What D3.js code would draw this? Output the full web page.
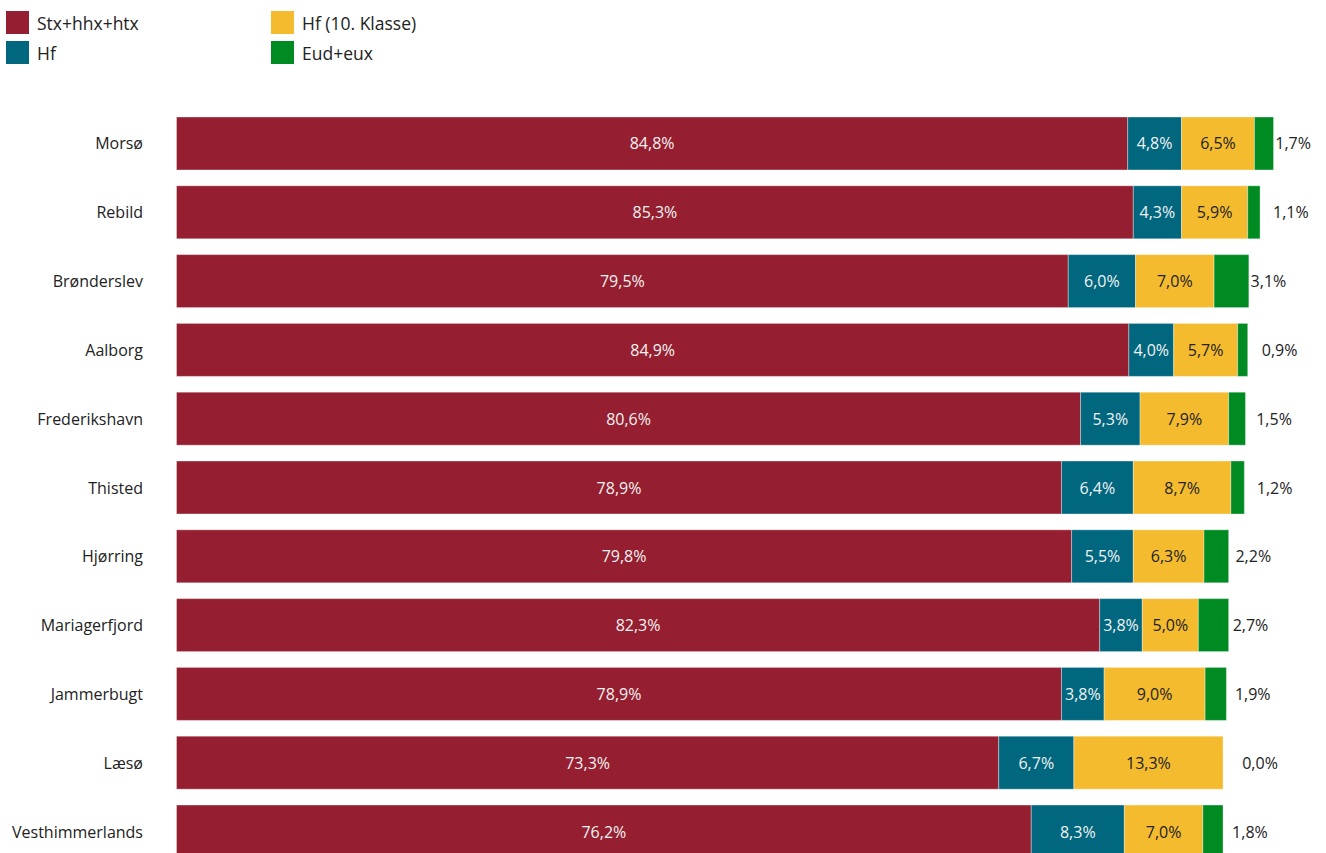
<!DOCTYPE html>
<html><head><meta charset="utf-8">
<script src="https://cdn.jsdelivr.net/npm/d3@7"></script>
<style>
html,body{margin:0;padding:0;background:#fff;}
svg{display:block;font-family:"Open Sans",sans-serif;}
</style></head>
<body>
<svg id="chart" width="1326" height="853"></svg>
<script>
const categories = ["Morsø","Rebild","Brønderslev","Aalborg","Frederikshavn","Thisted","Hjørring","Mariagerfjord","Jammerbugt","Læsø","Vesthimmerlands"];
const seriesNames = ["Stx+hhx+htx","Hf","Hf (10. Klasse)","Eud+eux"];
const stx  = [84.8,85.3,79.5,84.9,80.6,78.9,79.8,82.3,78.9,73.3,76.2];
const hf   = [4.8,4.3,6.0,4.0,5.3,6.4,5.5,3.8,3.8,6.7,8.3];
const hf10 = [6.5,5.9,7.0,5.7,7.9,8.7,6.3,5.0,9.0,13.3,7.0];
const eud  = [1.7,1.1,3.1,0.9,1.5,1.2,2.2,2.7,1.9,0.0,1.8];
const colors = ["#951f30","#00677f","#f4bb2f","#008b22"];
const textColors = ["#f2f2f2","#f2f2f2","#222222",null];

const rows = categories.map((c,i)=>({cat:c,"Stx+hhx+htx":stx[i],"Hf":hf[i],"Hf (10. Klasse)":hf10[i],"Eud+eux":eud[i]}));
const stacked = d3.stack().keys(seriesNames)(rows);

const svg = d3.select("#chart");
const x = d3.scaleLinear().domain([0,100]).range([176.5,1298.2]);
const y = d3.scaleBand().domain(categories).range([117,858]).paddingInner(0.23).paddingOuter(0);
const fmt = v => d3.format(".1f")(v).replace(".",",")+"%";

// category labels
svg.append("g").selectAll("text").data(categories).join("text")
  .attr("x",143).attr("y",d=>y(d)+y.bandwidth()/2)
  .attr("text-anchor","end").attr("dominant-baseline","central")
  .attr("font-size",16).attr("fill","#222").text(d=>d);

const g = svg.append("g");
stacked.forEach((s,si)=>{
  const grp = g.append("g");
  grp.selectAll("rect").data(s).join("rect")
    .attr("x",d=>x(d[0])).attr("y",d=>y(d.data.cat))
    .attr("width",d=>x(d[1])-x(d[0])).attr("height",y.bandwidth())
    .attr("fill",colors[si]).attr("stroke","rgba(255,255,255,0.35)").attr("stroke-width",1);
  if(si<3){
    grp.selectAll("text").data(s).join("text")
      .attr("x",d=>(x(d[0])+x(d[1]))/2).attr("y",d=>y(d.data.cat)+y.bandwidth()/2)
      .attr("text-anchor","middle").attr("dominant-baseline","central")
      .attr("font-size",16).attr("fill",textColors[si])
      .text(d=>fmt(d[1]-d[0]));
  } else {
    grp.selectAll("text").data(s).join("text")
      .attr("y",d=>y(d.data.cat)+y.bandwidth()/2)
      .attr("text-anchor","middle").attr("dominant-baseline","central")
      .attr("font-size",16).attr("fill","#222")
      .text(d=>fmt(d[1]-d[0]))
      .each(function(d){
        const w = this.getComputedTextLength();
        let cx = (x(d[0])+x(d[1]))/2 + 37;
        if(cx + w/2 > 1311) cx = 1311 - w/2;
        d3.select(this).attr("x",cx);
      });
  }
});

// legend
const legendPos = [[6,11],[6,41],[271,11],[271,41]];
const lg = svg.append("g");
seriesNames.forEach((n,i)=>{
  const [lx,ly] = legendPos[i];
  lg.append("rect").attr("x",lx).attr("y",ly).attr("width",23).attr("height",23).attr("fill",colors[i]);
  lg.append("text").attr("x",lx+31).attr("y",ly+11.5).attr("dominant-baseline","central")
    .attr("font-size",17.5).attr("fill","#222").text(n);
});
</script>
</body></html>
